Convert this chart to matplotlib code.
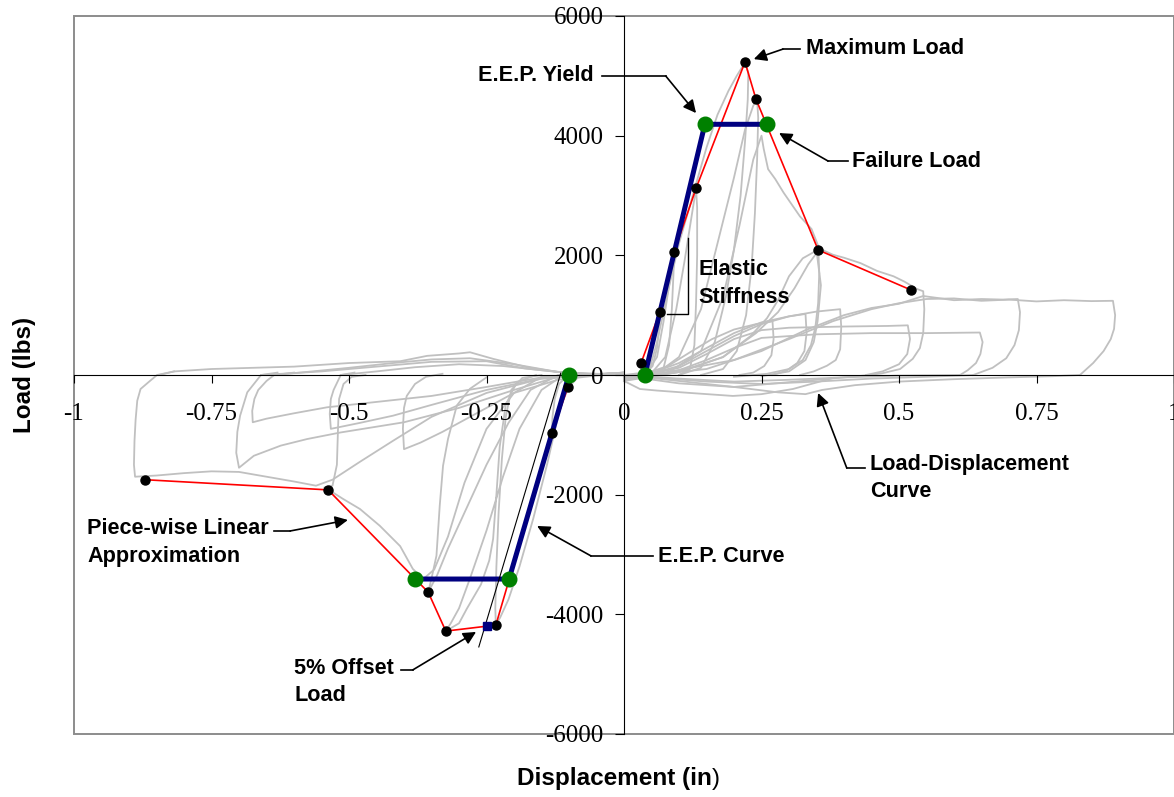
import matplotlib
matplotlib.use("Agg")
import matplotlib.pyplot as plt
from matplotlib.patches import Rectangle

plt.rcParams["font.family"] = ["Liberation Serif", "DejaVu Serif"]
plt.rcParams["axes.unicode_minus"] = False

SANS = ["Liberation Sans", "DejaVu Sans"]
GRAY = "#c0c0c0"

# tick values / labels
x_ticks = [-1, -0.75, -0.5, -0.25, 0, 0.25, 0.5, 0.75, 1]
x_tick_labels = ["-1", "-0.75", "-0.5", "-0.25", "0", "0.25", "0.5", "0.75", "1"]
y_ticks = [-6000, -4000, -2000, 0, 2000, 4000, 6000]
y_tick_labels = ["-6000", "-4000", "-2000", "0", "2000", "4000", "6000"]

# ---- load-displacement hysteresis (gray), positive half cycles ----
loop_p1 = [(0.0, -30), (0.03, 20), (0.045, 250), (0.055, 650), (0.062, 950), (0.065, 1050),
           (0.064, 800), (0.06, 450), (0.052, 150), (0.04, 30), (0.02, -20)]
loop_p2 = [(0.0, -40), (0.04, 20), (0.06, 300), (0.072, 900), (0.082, 1500), (0.088, 1850),
           (0.091, 2050), (0.09, 1700), (0.087, 1100), (0.082, 500), (0.072, 120), (0.05, 0)]
loop_p3 = [(0.0, -50), (0.05, 30), (0.075, 300), (0.095, 1100), (0.11, 1900), (0.122, 2600),
           (0.131, 3120), (0.133, 2800), (0.133, 2000), (0.131, 1200), (0.128, 500),
           (0.12, 100), (0.1, 0)]
loop_p4 = [(0.0, 0), (0.045, 50), (0.06, 550), (0.08, 1400), (0.1, 2200), (0.125, 3000),
           (0.15, 3800), (0.17, 4350), (0.19, 4750), (0.205, 5000), (0.215, 5150), (0.22, 5230),
           (0.226, 5050), (0.225, 4600), (0.22, 3900), (0.212, 3000), (0.2, 2100),
           (0.185, 1300), (0.165, 550), (0.14, 120), (0.1, 0)]
loop_p5 = [(0.0, -50), (0.06, 30), (0.1, 300), (0.14, 1100), (0.17, 2200), (0.2, 3300),
           (0.22, 4100), (0.235, 4500), (0.242, 4610), (0.244, 4300), (0.242, 3600),
           (0.238, 2700), (0.232, 1800), (0.222, 1000), (0.205, 400), (0.18, 100), (0.14, 0)]
loop_p6 = [(0.0, -60), (0.08, 40), (0.14, 400), (0.18, 1300), (0.21, 2500), (0.235, 3600),
           (0.25, 4000), (0.254, 3780), (0.262, 3440), (0.275, 3275), (0.29, 3050),
           (0.302, 2890), (0.32, 2650), (0.341, 2440), (0.353, 2160), (0.355, 1700),
           (0.353, 1200), (0.348, 800), (0.34, 500), (0.325, 250), (0.3, 100), (0.26, 20),
           (0.2, -30)]
loop_p7 = [(0.0, -80), (0.1, 50), (0.18, 300), (0.23, 650), (0.26, 950), (0.28, 1250),
           (0.3, 1650), (0.325, 1950), (0.35, 2080), (0.358, 1500), (0.352, 900),
           (0.345, 550), (0.33, 250), (0.3, 60), (0.25, -20)]
loop_p8 = [(0.0, -100), (0.1, 50), (0.18, 300), (0.24, 700), (0.28, 1050), (0.31, 1450),
           (0.335, 1850), (0.356, 2110), (0.38, 2010), (0.4, 1960), (0.43, 1870), (0.46, 1740),
           (0.49, 1650), (0.51, 1560), (0.532, 1440), (0.544, 1400), (0.546, 1100),
           (0.544, 700), (0.538, 450), (0.525, 270), (0.502, 100), (0.47, 30), (0.447, 0)]
loop_p9 = [(0.05, 0), (0.15, 100), (0.25, 400), (0.33, 750), (0.4, 1000), (0.45, 1120),
           (0.5, 1190), (0.544, 1320), (0.6, 1250), (0.65, 1270), (0.69, 1260), (0.716, 1270),
           (0.72, 1050), (0.718, 750), (0.71, 500), (0.695, 280), (0.67, 120), (0.635, 0)]
loop_p10 = [(0.05, 0), (0.2, 250), (0.3, 600), (0.38, 900), (0.45, 1100), (0.5, 1200),
            (0.55, 1270), (0.6, 1280), (0.65, 1240), (0.7, 1260), (0.75, 1230), (0.8, 1250),
            (0.85, 1235), (0.889, 1240), (0.893, 1000), (0.891, 770), (0.885, 600),
            (0.872, 400), (0.853, 200), (0.829, 0)]
loop_p11 = [(0.05, 0), (0.1, 80), (0.15, 250), (0.2, 450), (0.25, 620), (0.35, 680),
            (0.45, 700), (0.55, 700), (0.647, 710), (0.652, 550), (0.648, 350), (0.64, 200),
            (0.625, 80), (0.611, 0)]
loop_p12 = [(0.04, 0), (0.1, 120), (0.15, 350), (0.2, 600), (0.25, 750), (0.3, 790),
            (0.4, 810), (0.48, 820), (0.516, 830), (0.52, 600), (0.515, 350), (0.5, 180),
            (0.47, 60), (0.44, 0)]
loop_p13 = [(0.04, 0), (0.1, 150), (0.15, 400), (0.2, 650), (0.25, 850), (0.3, 980),
            (0.35, 1060), (0.393, 1100), (0.395, 800), (0.393, 430), (0.385, 250),
            (0.369, 155), (0.345, 60), (0.32, 0)]
loop_p14 = [(0.04, 0), (0.1, 200), (0.15, 450), (0.2, 700), (0.25, 880), (0.3, 980),
            (0.33, 1020), (0.332, 700), (0.328, 400), (0.315, 200), (0.295, 70), (0.27, 0)]
loop_p15 = [(0.03, 0), (0.08, 150), (0.12, 380), (0.16, 600), (0.2, 760), (0.24, 850),
            (0.27, 900), (0.272, 600), (0.268, 330), (0.255, 150), (0.235, 40), (0.21, 0)]

ret_p1 = [(0.829, 0), (0.78, -20), (0.7, -40), (0.6, -70), (0.5, -110), (0.42, -170),
          (0.36, -250), (0.33, -320), (0.28, -290), (0.2, -200), (0.12, -120), (0.05, -50),
          (0.0, 0)]
ret_p2 = [(0.635, 0), (0.55, -30), (0.45, -60), (0.35, -110), (0.25, -150), (0.15, -110),
          (0.05, -40), (0.0, 0)]
ret_p3 = [(0.447, 0), (0.4, -40), (0.3, -120), (0.2, -200), (0.1, -140), (0.03, -50), (0.0, 0)]
ret_p4 = [(0.611, 0), (0.5, -10), (0.4, -40), (0.3, -80), (0.2, -110), (0.1, -60), (0.0, 0)]
ret_p5 = [(0.38, -50), (0.307, -234), (0.25, -320), (0.198, -350), (0.12, -300),
          (0.06, -260), (0.029, -234), (0.0, -100)]

# ---- negative half cycles ----
loop_n1 = [(0.0, 30), (-0.08, 0), (-0.1, -200), (-0.112, -450), (-0.122, -750), (-0.131, -970),
           (-0.13, -700), (-0.126, -400), (-0.118, -150), (-0.105, -30), (-0.085, 0)]
loop_n2 = [(0.0, 30), (-0.095, 0), (-0.105, -150), (-0.12, -700), (-0.14, -1500),
           (-0.165, -2400), (-0.19, -3200), (-0.21, -3750), (-0.225, -4050), (-0.233, -4180),
           (-0.234, -3900), (-0.232, -3200), (-0.228, -2300), (-0.222, -1400), (-0.215, -700),
           (-0.205, -250), (-0.185, -50), (-0.15, 0)]
loop_n3 = [(0.0, 30), (-0.11, 0), (-0.15, -250), (-0.19, -900), (-0.22, -1700), (-0.25, -2600),
           (-0.28, -3400), (-0.3, -3900), (-0.315, -4150), (-0.324, -4280), (-0.3, -4150),
           (-0.286, -3910), (-0.26, -3500), (-0.245, -3100), (-0.238, -2740), (-0.232, -2000),
           (-0.226, -1200), (-0.215, -500), (-0.195, -120), (-0.16, 0)]
loop_n4 = [(0.0, 30), (-0.12, 0), (-0.17, -250), (-0.21, -800), (-0.25, -1500), (-0.29, -2300),
           (-0.32, -2900), (-0.34, -3350), (-0.356, -3630), (-0.35, -3400), (-0.341, -3020),
           (-0.335, -2180), (-0.329, -1515), (-0.32, -1070), (-0.304, -510), (-0.28, -230),
           (-0.25, -40)]
loop_n5 = [(0.0, 30), (-0.15, -30), (-0.2, -300), (-0.25, -900), (-0.29, -1800), (-0.32, -2700),
           (-0.345, -3250), (-0.365, -3410), (-0.384, -3240), (-0.407, -2860), (-0.444, -2520),
           (-0.48, -2240), (-0.511, -2070), (-0.535, -1930), (-0.545, -1880), (-0.53, -1850),
           (-0.522, -1500), (-0.52, -900), (-0.518, -400), (-0.51, -150), (-0.495, -30),
           (-0.47, 0)]
loop_n6 = [(0.0, 40), (-0.12, -30), (-0.2, -250), (-0.3, -550), (-0.4, -790), (-0.515, -960),
           (-0.576, -1070), (-0.624, -1180), (-0.673, -1350), (-0.7, -1550), (-0.705, -1300),
           (-0.703, -950), (-0.698, -680), (-0.685, -290), (-0.66, 0), (-0.63, 40)]
loop_n7 = [(0.0, 40), (-0.15, -40), (-0.25, -200), (-0.35, -350), (-0.45, -450), (-0.54, -540),
           (-0.6, -640), (-0.65, -730), (-0.675, -790), (-0.676, -600), (-0.672, -400),
           (-0.665, -250), (-0.65, -100), (-0.636, 0), (-0.6, 40)]
loop_n8 = [(0.0, 40), (-0.15, -60), (-0.25, -250), (-0.35, -500), (-0.42, -680), (-0.48, -800),
           (-0.533, -900), (-0.535, -650), (-0.533, -400), (-0.528, -250), (-0.515, 0),
           (-0.49, 40)]
loop_n9 = [(0.0, 40), (-0.12, -80), (-0.2, -300), (-0.27, -650), (-0.33, -950), (-0.37, -1130),
           (-0.4, -1240), (-0.402, -900), (-0.4, -550), (-0.395, -350), (-0.38, -150),
           (-0.36, -30), (-0.33, 20)]
loop_n10 = [(0.0, 40), (-0.15, -60), (-0.25, -300), (-0.35, -700), (-0.42, -1100), (-0.48, -1450),
            (-0.53, -1750), (-0.56, -1850), (-0.6, -1780), (-0.65, -1700), (-0.7, -1620),
            (-0.75, -1610), (-0.8, -1640), (-0.85, -1680), (-0.889, -1700), (-0.891, -1500),
            (-0.89, -1100), (-0.888, -750), (-0.885, -430), (-0.879, -234), (-0.862, -100),
            (-0.849, 0), (-0.818, 60)]

ret_n1 = [(-0.845, 0), (-0.818, 60), (-0.75, 100), (-0.6, 140), (-0.5, 200), (-0.407, 230),
          (-0.358, 320), (-0.3, 360), (-0.28, 380), (-0.238, 270), (-0.176, 130), (-0.12, 50),
          (-0.05, 10), (0.0, 0)]
ret_n2 = [(-0.636, 0), (-0.6, 30), (-0.5, 120), (-0.42, 200), (-0.35, 260), (-0.28, 280),
          (-0.2, 180), (-0.12, 50), (0.0, 0)]
ret_n3 = [(-0.515, 0), (-0.45, 60), (-0.38, 130), (-0.3, 180), (-0.22, 150), (-0.15, 80),
          (-0.08, 20), (0.0, 0)]
ret_n4 = [(-0.66, 0), (-0.55, 60), (-0.45, 140), (-0.35, 220), (-0.25, 230), (-0.18, 110),
          (-0.1, 30), (0.0, 0)]

gray_curves = [loop_p1, loop_p2, loop_p3, loop_p4, loop_p5, loop_p6, loop_p7, loop_p8,
               loop_p9, loop_p10, loop_p11, loop_p12, loop_p13, loop_p14, loop_p15,
               ret_p1, ret_p2, ret_p3, ret_p4, ret_p5,
               loop_n1, loop_n2, loop_n3, loop_n4, loop_n5, loop_n6, loop_n7, loop_n8,
               loop_n9, loop_n10, ret_n1, ret_n2, ret_n3, ret_n4]

# ---- piece-wise linear envelope (red) ----
pos_env_x = [0.031, 0.065, 0.091, 0.131, 0.220, 0.240, 0.353, 0.522]
pos_env_y = [200, 1050, 2050, 3120, 5230, 4610, 2090, 1420]
neg_env_x = [-0.102, -0.131, -0.233, -0.324, -0.356, -0.538, -0.871]
neg_env_y = [-200, -970, -4180, -4280, -3630, -1920, -1750]

# ---- E.E.P. curve (navy) ----
eep_pos_x = [0.038, 0.147, 0.260]
eep_pos_y = [0, 4190, 4190]
eep_neg_x = [-0.100, -0.209, -0.380]
eep_neg_y = [0, -3410, -3410]

# ---- elastic stiffness / 5% offset ----
offset_line_x = [-0.115, -0.264]
offset_line_y = [30, -4545]
offset_load_x = [-0.249]
offset_load_y = [-4190]
stiff_mark_x = [0.078, 0.1164, 0.1164]
stiff_mark_y = [1019, 1019, 2289]

W, H = 1174, 797
fig = plt.figure(figsize=(W / 100, H / 100), dpi=100)
ax = fig.add_axes([74 / W, 1 - 734 / H, 1100 / W, 718 / H])
ax.set_xlim(-1, 1)
ax.set_ylim(-6000, 6000)

for curve in gray_curves:
    ax.plot([p[0] for p in curve], [p[1] for p in curve], color=GRAY, lw=1.3, zorder=1)

ax.plot(pos_env_x, pos_env_y, color="red", lw=1.2, zorder=3)
ax.plot(neg_env_x, neg_env_y, color="red", lw=1.2, zorder=3)
ax.plot(eep_pos_x, eep_pos_y, color="#000080", lw=3.6, zorder=4)
ax.plot(eep_neg_x, eep_neg_y, color="#000080", lw=3.6, zorder=4)
ax.plot(offset_line_x, offset_line_y, color="black", lw=0.8, zorder=5)
ax.plot(stiff_mark_x, stiff_mark_y, color="black", lw=1.0, zorder=5)
ax.plot(pos_env_x, pos_env_y, "o", color="black", ms=6.5, zorder=6)
ax.plot(neg_env_x, neg_env_y, "o", color="black", ms=6.5, zorder=6)
ax.plot(offset_load_x, offset_load_y, "s", color="#000080", ms=6, zorder=6)
ax.plot(eep_pos_x, eep_pos_y, "o", color="green", ms=10.5, zorder=7)
ax.plot(eep_neg_x, eep_neg_y, "o", color="green", ms=10.5, zorder=7)

# axes through zero
for side in ["top", "right"]:
    ax.spines[side].set_visible(False)
ax.spines["left"].set_position(("data", 0))
ax.spines["bottom"].set_position(("data", 0))
ax.spines["left"].set_linewidth(0.8)
ax.spines["bottom"].set_linewidth(0.8)
ax.add_patch(Rectangle((0, 0), 1, 1, transform=ax.transAxes, fill=False,
                       edgecolor="#8c8c8c", lw=1.4, clip_on=False, zorder=0))

ax.set_xticks(x_ticks)
ax.set_xticklabels(x_tick_labels)
ax.set_yticks(y_ticks)
ax.set_yticklabels(y_tick_labels)
ax.tick_params(axis="x", direction="out", length=6, width=0.8, pad=14, labelsize=18)
ax.tick_params(axis="y", direction="out", length=6.5, width=0.8, pad=8, labelsize=18)

# callouts
def callout(start, elbow, tip):
    ax.plot([start[0], elbow[0]], [start[1], elbow[1]], color="black", lw=1.2, zorder=8)
    ax.annotate("", xy=tip, xytext=elbow,
                arrowprops=dict(arrowstyle="-|>", color="black", lw=1.2,
                                mutation_scale=19, shrinkA=0, shrinkB=0), zorder=8)

tkw = dict(fontsize=15.6, fontweight="bold", family=SANS, va="center", zorder=9)
ax.text(0.331, 5464, "Maximum Load", ha="left", **tkw)
callout((0.32, 5447), (0.289, 5447), (0.236, 5280))
ax.text(-0.056, 5013, "E.E.P. Yield", ha="right", **tkw)
callout((-0.04, 4996), (0.076, 4996), (0.131, 4378))
ax.text(0.415, 3576, "Failure Load", ha="left", **tkw)
callout((0.407, 3576), (0.371, 3576), (0.282, 4044))
ax.text(0.135, 1771, "Elastic", ha="left", **tkw)
ax.text(0.135, 1303, "Stiffness", ha="left", **tkw)
ax.text(0.447, -1504, "Load-Displacement", ha="left", **tkw)
ax.text(0.447, -1955, "Curve", ha="left", **tkw)
callout((0.438, -1554), (0.405, -1554), (0.353, -301))
ax.text(0.062, -3041, "E.E.P. Curve", ha="left", **tkw)
callout((0.053, -3024), (-0.06, -3024), (-0.158, -2523))
ax.text(-0.976, -2573, "Piece-wise Linear", ha="left", **tkw)
ax.text(-0.976, -3041, "Approximation", ha="left", **tkw)
callout((-0.636, -2607), (-0.607, -2607), (-0.502, -2423))
ax.text(-0.6, -4913, "5% Offset", ha="left", **tkw)
ax.text(-0.6, -5364, "Load", ha="left", **tkw)
callout((-0.405, -4929), (-0.384, -4929), (-0.269, -4294))

# axis titles
fig.text(24 / W, 1 - 375 / H, "Load (lbs)", rotation=90, ha="center", va="center",
         fontsize=17.5, fontweight="bold", family=SANS)
xl = fig.text(614 / W, 1 - 778 / H, "Displacement (in", ha="center", va="center",
              fontsize=17.5, fontweight="bold", family=SANS)
ax.annotate(")", xy=(1, 0), xycoords=xl, ha="left", va="bottom",
            fontsize=17.5, family=SANS, annotation_clip=False)

fig.savefig("out.png", dpi=100)
